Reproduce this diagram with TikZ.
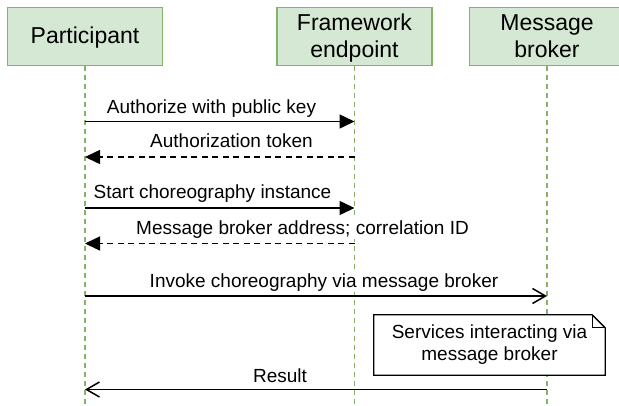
\documentclass[tikz,border=0pt]{standalone}
\usepackage{fontspec}
\setmainfont{Liberation Sans}
\usetikzlibrary{arrows.meta}
\definecolor{actorfill}{HTML}{D5E8D4}
\definecolor{actorline}{HTML}{82B366}
% centred stack of lines for the participant boxes, set 2pt lower than its box
\newcommand{\actortext}[1]{\raisebox{-2pt}[\height][\depth]{\begin{tabular}{@{}c@{}}#1\end{tabular}}}
\begin{document}
\begin{tikzpicture}[x=1pt,y=-1pt,
  actor/.style={draw=actorline, fill=actorfill, line width=1.6pt,
    minimum width=155pt, minimum height=58pt, inner sep=0pt,
    font=\fontsize{23}{27}\selectfont},
  lifeline/.style={draw=actorline, line width=1.5pt, dash pattern=on 4.5pt off 4.5pt},
  msg/.style={line width=1.5pt, -{Triangle[length=15pt,width=14pt]}},
  reply/.style={msg, dash pattern=on 6pt off 4.5pt},
  async/.style={line width=1.5pt, -{Straight Barb[length=13pt,width=15pt]}},
  lbl/.style={fill=white, inner sep=1pt, anchor=base, font=\fontsize{19}{22}\selectfont},
  notetext/.style={align=center, inner sep=0pt, font=\fontsize{19}{22}\selectfont}]

\useasboundingbox (0,0) rectangle (619,405);

% participants
\node[actor] (part)   at (85,36.5)    {\actortext{Participant}};
\node[actor] (fw)     at (354.5,36.5) {\actortext{Framework\\endpoint}};
\node[actor] (broker) at (547,36.5)   {\actortext{Message\\broker}};

% lifelines
\coordinate (partEnd)   at (part.south |- 0,405);
\coordinate (fwEnd)     at (fw.south |- 0,405);
\coordinate (brokerEnd) at (broker.south |- 0,405);
\draw[lifeline] (part.south) -- (partEnd);
\draw[lifeline] (fw.south) -- (fwEnd);
\draw[lifeline] (broker.south) -- (brokerEnd);

% message end points on the lifelines
\path (part.south |- 0,121.5) coordinate (p1) (fw.south |- 0,121.5) coordinate (f1)
      (part.south |- 0,157)   coordinate (p2) (fw.south |- 0,157)   coordinate (f2)
      (part.south |- 0,208)   coordinate (p3) (fw.south |- 0,208)   coordinate (f3)
      (part.south |- 0,243.5) coordinate (p4) (fw.south |- 0,243.5) coordinate (f4)
      (part.south |- 0,296)   coordinate (p5) (broker.south |- 0,296) coordinate (b5)
      (part.south |- 0,389.5) coordinate (p6) (broker.south |- 0,389.5) coordinate (b6);

% message labels
\node[lbl] (l1) at (211.5,113) {Authorize with public key};
\node[lbl] (l2) at (231.5,147) {Authorization token};
\node[lbl] (l3) at (212.5,198) {Start choreography instance};
\node[lbl] (l4) at (302.5,234) {Message broker address; correlation ID};
\node[lbl] (l5) at (324,287)   {Invoke choreography via message broker};
\node[lbl] (l6) at (280,382)   {Result};

% messages
\draw[msg]   (p1) -- (f1);
\draw[reply] (f2) -- (p2);
\draw[msg]   (p3) -- (f3);
\draw[reply] (f4) -- (p4);
\draw[async] (p5) -- (b5);
\draw[async] (b6) -- (p6);

% note with folded corner
\node[minimum width=231pt, minimum height=60pt, inner sep=0pt] (note) at (489.5,345) {};
\draw[line width=1.3pt, fill=white, line join=miter]
  (note.south west) -- (note.north west) -- ([xshift=-13pt]note.north east)
  -- ([yshift=-13pt]note.north east) -- (note.south east) -- cycle;
\draw[line width=1.3pt]
  ([xshift=-13pt]note.north east) -- ([xshift=-13pt,yshift=-13pt]note.north east)
  -- ([yshift=-13pt]note.north east);
\node[notetext] (notelabel) at (note.center) {Services interacting via\\message broker};
\end{tikzpicture}
\end{document}
